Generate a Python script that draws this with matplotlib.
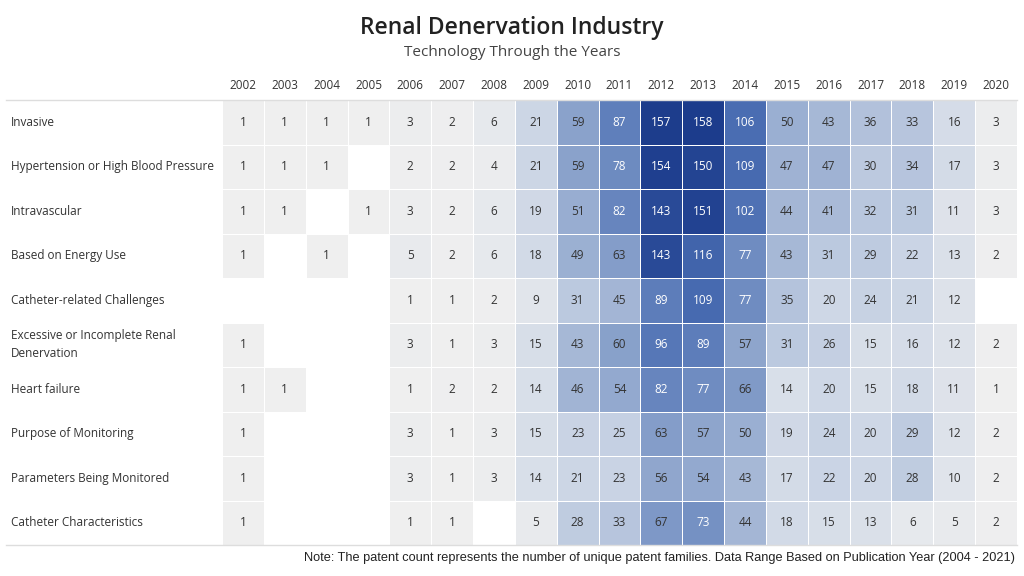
import matplotlib.pyplot as plt
import numpy as np
from matplotlib.colors import LinearSegmentedColormap, Normalize

years = [str(y) for y in range(2002, 2021)]
categories = ['Invasive', 'Hypertension or High Blood Pressure', 'Intravascular',
              'Based on Energy Use', 'Catheter-related Challenges',
              'Excessive or Incomplete Renal\nDenervation', 'Heart failure',
              'Purpose of Monitoring', 'Parameters Being Monitored',
              'Catheter Characteristics']
N = None
invasive = [1, 1, 1, 1, 3, 2, 6, 21, 59, 87, 157, 158, 106, 50, 43, 36, 33, 16, 3]
hypertension = [1, 1, 1, N, 2, 2, 4, 21, 59, 78, 154, 150, 109, 47, 47, 30, 34, 17, 3]
intravascular = [1, 1, N, 1, 3, 2, 6, 19, 51, 82, 143, 151, 102, 44, 41, 32, 31, 11, 3]
energy_use = [1, N, 1, N, 5, 2, 6, 18, 49, 63, 143, 116, 77, 43, 31, 29, 22, 13, 2]
catheter_challenges = [N, N, N, N, 1, 1, 2, 9, 31, 45, 89, 109, 77, 35, 20, 24, 21, 12, N]
excessive = [1, N, N, N, 3, 1, 3, 15, 43, 60, 96, 89, 57, 31, 26, 15, 16, 12, 2]
heart_failure = [1, 1, N, N, 1, 2, 2, 14, 46, 54, 82, 77, 66, 14, 20, 15, 18, 11, 1]
purpose_monitoring = [1, N, N, N, 3, 1, 3, 15, 23, 25, 63, 57, 50, 19, 24, 20, 29, 12, 2]
parameters = [1, N, N, N, 3, 1, 3, 14, 21, 23, 56, 54, 43, 17, 22, 20, 28, 10, 2]
catheter_chars = [1, N, N, N, 1, 1, N, 5, 28, 33, 67, 73, 44, 18, 15, 13, 6, 5, 2]

rows = [invasive, hypertension, intravascular, energy_use, catheter_challenges,
        excessive, heart_failure, purpose_monitoring, parameters, catheter_chars]
data = np.array([[np.nan if v is None else v for v in r] for r in rows], dtype=float)

cmap = LinearSegmentedColormap.from_list(
    'tab_blue', [(0.0, '#efefef'), (0.13, '#cbd5e5'), (0.37, '#8aa2cb'),
                 (0.55, '#5f7fbb'), (0.67, '#4a6db2'), (1.0, '#1c3c8c')])
cmap.set_bad('white')
norm = Normalize(vmin=1, vmax=158)

plt.rcParams['font.family'] = ['Open Sans', 'DejaVu Sans']

fig = plt.figure(figsize=(10.24, 5.76), dpi=100)
ax = fig.add_axes([222 / 1024, 31 / 576, 795 / 1024, 445 / 576])

ax.pcolormesh(np.ma.masked_invalid(data), cmap=cmap, norm=norm,
              edgecolor='white', linewidth=0.4)
ax.set_xlim(0, len(years))
ax.set_ylim(len(categories), 0)

for i in range(data.shape[0]):
    for j in range(data.shape[1]):
        v = data[i, j]
        if np.isnan(v):
            continue
        color = 'white' if v >= 70 else '#333333'
        ax.text(j + 0.5, i + 0.5, f'{int(v)}', ha='center', va='center',
                fontsize=8.5, color=color)

ax.set_xticks(np.arange(len(years)) + 0.5)
ax.set_xticklabels(years, fontsize=8.5, color='#333333', fontweight='medium')
ax.xaxis.tick_top()
ax.tick_params(axis='x', length=0, pad=6)
ax.set_yticks([])
for s in ax.spines.values():
    s.set_visible(False)

tr = ax.get_yaxis_transform()
for i, c in enumerate(categories):
    ax.text(-0.265, i + 0.5, c, transform=tr, ha='left', va='center',
            fontsize=8.5, color='#333333', linespacing=1.5, fontweight='medium')

ax.axhline(0, xmin=-0.272, xmax=1, color='#dddddd', linewidth=1, clip_on=False)
ax.axhline(len(categories), xmin=-0.272, xmax=1, color='#dddddd', linewidth=1,
           clip_on=False)

fig.text(0.5, 1 - 28 / 576, 'Renal Denervation Industry', ha='center', va='center',
         fontsize=16.5, color='#222222', fontweight='semibold')
fig.text(0.5, 1 - 52 / 576, 'Technology Through the Years', ha='center',
         va='center', fontsize=11, color='#444444')
fig.text(1015 / 1024, 1 - 558 / 576,
         'Note: The patent count represents the number of unique patent families. '
         'Data Range Based on Publication Year (2004 - 2021)',
         ha='right', va='center', fontsize=9.2, color='#222222',
         family='Liberation Sans')

fig.savefig('out.png', dpi=100, facecolor='white')
